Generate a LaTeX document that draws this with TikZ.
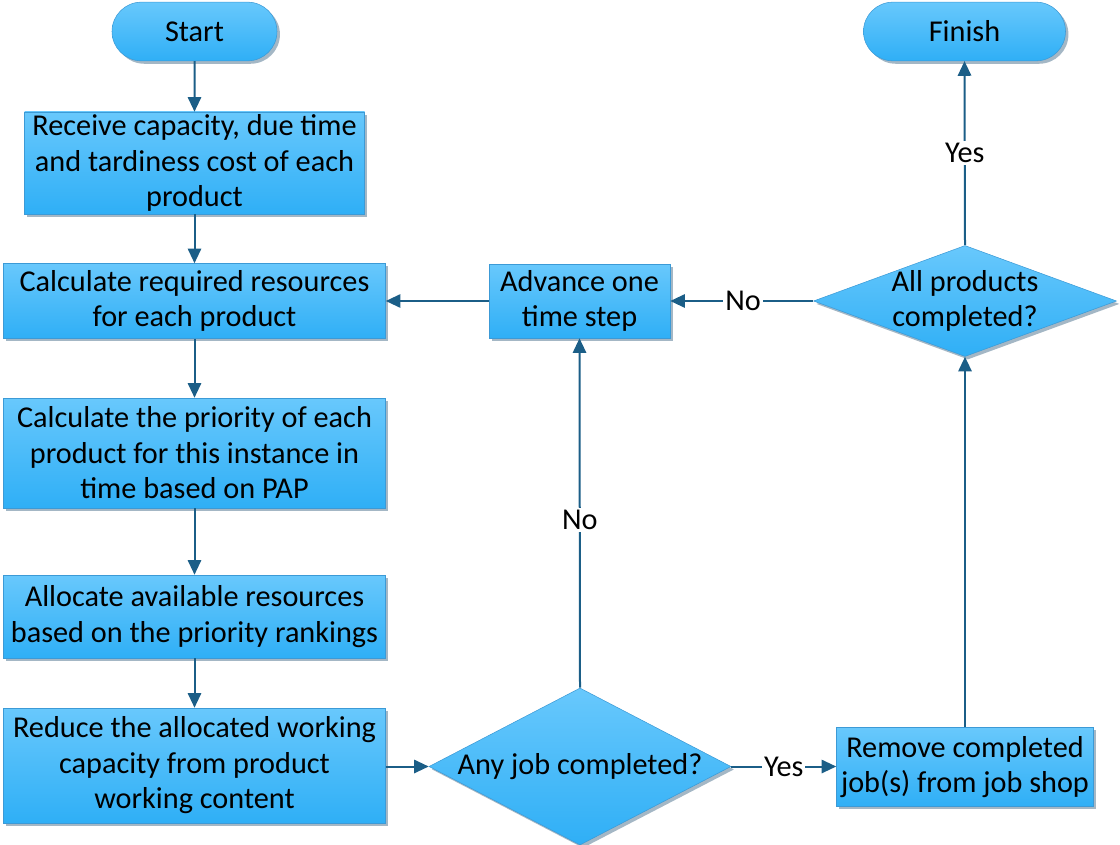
\documentclass[tikz,border=0pt]{standalone}
\usepackage{fontspec}
\setmainfont{Carlito}
\usetikzlibrary{arrows.meta,shapes.geometric,shapes.misc,shadows}
\definecolor{topblue}{HTML}{68C8FC}
\definecolor{botblue}{HTML}{2FAFF6}
\definecolor{edgeblue}{HTML}{3C9AD6}
\definecolor{arrowblue}{HTML}{1B5E87}
\definecolor{shadowgray}{HTML}{9AAFBF}
\tikzset{
  base/.style={draw=edgeblue, line width=0.4pt, top color=topblue, bottom color=botblue,
    drop shadow={shadow xshift=2.2pt, shadow yshift=-2.2pt, fill=shadowgray, opacity=0.9},
    font=\fontsize{22.7}{26.6}\selectfont, align=center, inner sep=0pt},
  process/.style={base, rectangle},
  terminal/.style={base, rounded rectangle},
  decision/.style={base, diamond},
  txt/.style={font=\fontsize{22.7}{26.6}\selectfont, align=center, inner sep=0pt},
  flow/.style={draw=arrowblue, line width=1.5pt, -{Triangle[length=11pt,width=10pt]}},
  lbl/.style={fill=white, font=\fontsize{22.7}{26.6}\selectfont, inner sep=1.5pt, text=black}
}
\begin{document}
\begin{tikzpicture}[x=0.75pt,y=-0.75pt]
\useasboundingbox (0,0) rectangle (1120,845);
% nodes
\node[terminal, minimum width=123.75pt, minimum height=44pt] (start) at (194.5,31.5) {Start};
\node[terminal, minimum width=151.5pt, minimum height=44pt] (finish) at (964.5,31.5) {Finish};
\node[process, minimum width=255pt, minimum height=76.5pt] (b1) at (194.5,163)
  {Receive capacity, due time\\and tardiness cost of each\\product};
\node[process, minimum width=286.5pt, minimum height=56.25pt] (b2) at (194.5,301)
  {Calculate required resources\\for each product};
\node[process, minimum width=286.5pt, minimum height=82.5pt] (b3) at (194.5,453)
  {Calculate the priority of each\\product for this instance in\\time based on PAP};
\node[process, minimum width=286.5pt, minimum height=62.25pt] (b4) at (194.5,616.5)
  {Allocate available resources\\based on the priority rankings};
\node[process, minimum width=286.5pt, minimum height=86.25pt] (b5) at (194.5,765.5)
  {Reduce the allocated working\\capacity from product\\working content};
\node[decision, minimum width=226.5pt, minimum height=117.75pt] (d1) at (580,766.5) {};
\node[txt] at (d1) {Any job completed?};
\node[process, minimum width=192.75pt, minimum height=59.25pt] (rm) at (965,767)
  {Remove completed\\job(s) from job shop};
\node[decision, minimum width=227.25pt, minimum height=83.25pt] (d2) at (965,301) {};
\node[txt] at (d2) {All products\\completed?};
\node[process, minimum width=135.75pt, minimum height=55.5pt] (adv) at (579.5,301)
  {Advance one\\time step};
% connectors
\draw[flow] (start) -- (b1);
\draw[flow] (b1) -- (b2);
\draw[flow] (b2) -- (b3);
\draw[flow] (b3) -- (b4);
\draw[flow] (b4) -- (b5);
\draw[flow] (b5.east |- d1.west) -- (d1.west);
\draw[flow] (d1.east) -- node[lbl]{Yes} (rm.west |- d1.east);
\draw[flow] (rm.north) -- (d2.south);
\draw[flow] (d2.north) -- node[lbl]{Yes} (finish.south);
\draw[flow] (d2.west) -- node[lbl, pos=0.49]{No} (adv.east);
\draw[flow] (d1.north) -- node[lbl, pos=0.48]{No} (adv.south);
\draw[flow] (adv.west) -- (b2.east);
\end{tikzpicture}
\end{document}
